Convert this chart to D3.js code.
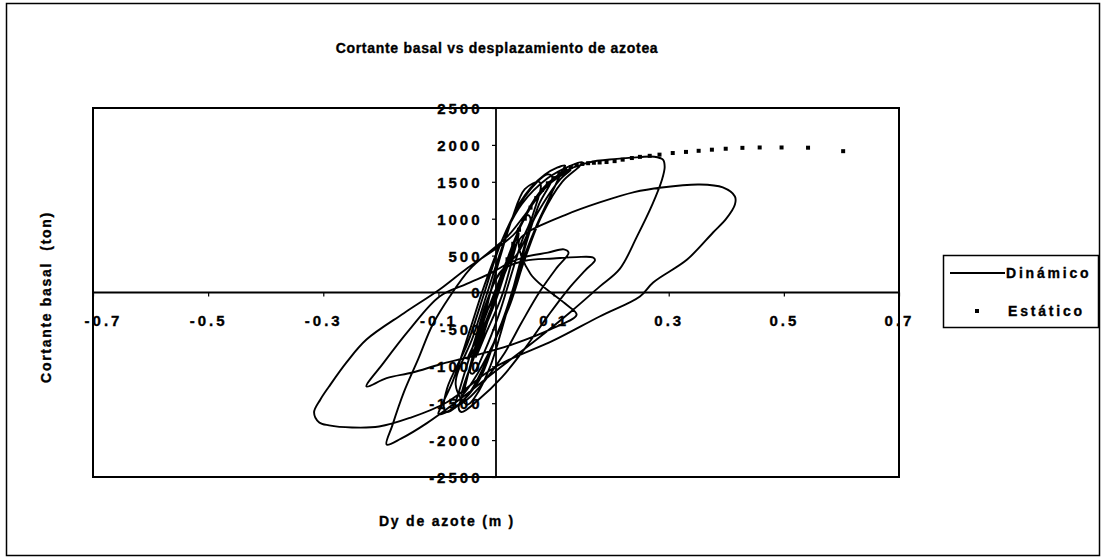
<!DOCTYPE html>
<html>
<head>
<meta charset="utf-8">
<script src="https://cdn.jsdelivr.net/npm/d3@7"></script>
<style>
  html, body { margin: 0; padding: 0; background: #fff; }
  svg { display: block; font-family: "Liberation Sans", Arial, sans-serif; font-weight: bold; }
  svg text { fill: #000; stroke: #000; stroke-width: 0.35px; white-space: pre; }
</style>
</head>
<body>
<svg id="chart" width="1104" height="560"></svg>
<script>
// Dynamic response: roof displacement (m) and base shear (ton), in time order
const dynamicDx = [
  0, 0.012, 0.02, 0.01, -0.012, -0.022, -0.008, 0.014, 0.03, 0.04, 0.03, 0.01, -0.02, -0.035, -0.025, -0.005, 0.015, 0.04, 0.055, 0.06, 0.045, 0.025, 0.005, -0.02, -0.04, -0.045,
  -0.035, -0.02, -0.005, 0.02, 0.05, 0.09, 0.118, 0.126, 0.105, 0.075, 0.045, 0.015, -0.02, -0.05, -0.075, -0.07,
  -0.055, -0.035, -0.015, 0.01, 0.05, 0.1, 0.14, 0.168, 0.172, 0.155, 0.125, 0.09, 0.05, 0.01, -0.03, -0.06, -0.065,
  -0.058, -0.045, -0.028, -0.01, 0.008, 0.028, 0.05, 0.075, 0.078, 0.062, 0.045, 0.028, 0.01, -0.01, -0.035, -0.05,
  -0.07, -0.04, -0.015, 0.01, 0.04, 0.085, 0.12, 0.115, 0.1, 0.07, 0.04, 0.015, -0.015, -0.05, -0.085, -0.09,
  -0.085, -0.05, -0.02, 0.01, 0.05, 0.09, 0.098, 0.075, 0.05, 0.03, 0.0, -0.03, -0.07, -0.1, -0.098,
  -0.075, -0.045, -0.02, 0.01, 0.045, 0.09, 0.13, 0.15, 0.145, 0.115, 0.08, 0.05, 0.025, -0.005, -0.04, -0.06,
  -0.03, 0.0, 0.025, 0.045, 0.075, 0.11, 0.16, 0.21, 0.25, 0.275, 0.29, 0.293, 0.288, 0.272, 0.245, 0.215, 0.18, 0.13, 0.07, 0.0, -0.06, -0.12, -0.165, -0.19,
  -0.18, -0.16, -0.135, -0.11, -0.08, -0.045, -0.01, 0.02, 0.05, 0.09, 0.13, 0.11, 0.07, 0.035,
  0.0, -0.05, -0.098, -0.15, -0.195, -0.225, -0.19, -0.145, -0.098, -0.04, 0.03, 0.1, 0.14, 0.12, 0.06, 0.04,
  0.058, 0.12, 0.18, 0.24, 0.288, 0.354, 0.394, 0.415, 0.415, 0.4, 0.377, 0.332, 0.273, 0.25, 0.18, 0.1, 0.0, -0.086, -0.15, -0.203, -0.25, -0.29, -0.307, -0.316, -0.305, -0.29, -0.26, -0.225, -0.16, -0.098, -0.05, 0.01,
  0.035, 0.055, 0.06, 0.045, 0.02, -0.01, -0.035, -0.05, -0.04, -0.015, 0.01, 0.03, 0.035, 0.02, -0.005, -0.02, -0.012, 0.005, 0.008
];
const dynamicV = [
  0, 300, 450, 150, -280, -480, -200, 300, 640, 800, 500, -50, -600, -880, -650, -150, 350, 850, 1050, 1000, 700, 200, -300, -800, -1100, -1080,
  -800, -350, 100, 380, 480, 540, 585, 540, 330, 0, -400, -820, -1200, -1450, -1560, -1480,
  -1100, -600, -100, 300, 430, 460, 480, 475, 440, 300, 40, -320, -760, -1150, -1450, -1620, -1560,
  -1400, -1000, -500, 0, 500, 1000, 1400, 1500, 1440, 1000, 500, 0, -500, -1000, -1400, -1520,
  -1250, -600, 0, 600, 1200, 1600, 1720, 1650, 1400, 900, 300, -300, -900, -1400, -1620, -1580,
  -1300, -700, 0, 700, 1300, 1600, 1560, 1200, 600, 0, -600, -1200, -1550, -1650, -1590,
  -1200, -500, 100, 700, 1200, 1550, 1720, 1765, 1710, 1500, 1050, 450, -150, -700, -1200, -1400,
  -700, -100, 500, 950, 1350, 1600, 1760, 1810, 1835, 1840, 1800, 1700, 1520, 1200, 760, 320, 80, -260, -640, -1060, -1430, -1770, -1980, -2060,
  -1800, -1350, -900, -434, -50, 320, 560, 760, 1050, 1450, 1660, 1520, 1050, 500,
  300, 120, -54, -500, -950, -1274, -1160, -1084, -976, -860, -700, -480, -300, -150, 250, 700,
  830, 1050, 1220, 1360, 1423, 1463, 1423, 1301, 1192, 1000, 813, 447, 136, -54, -325, -650, -1003, -1490, -1700, -1816, -1829, -1800, -1761, -1626, -1450, -1274, -950, -637, -280, 41, 330, 650,
  820, 1100, 1150, 950, 450, -150, -650, -900, -800, -350, 200, 600, 650, 350, -100, -300, -200, 80, 100
];

// Static pushover curve
const staticDx = [0, 0.01, 0.02, 0.03, 0.04, 0.05, 0.06, 0.07, 0.08, 0.09, 0.1, 0.11, 0.12, 0.13, 0.14, 0.15, 0.16, 0.17, 0.18, 0.192, 0.206, 0.22, 0.236, 0.25, 0.267, 0.284, 0.307, 0.33, 0.352, 0.375, 0.399, 0.428, 0.458, 0.496, 0.542, 0.603];
const staticV  = [0, 220, 450, 660, 850, 1000, 1150, 1280, 1390, 1480, 1550, 1610, 1660, 1700, 1725, 1742, 1752, 1758, 1762, 1768, 1780, 1800, 1822, 1838, 1852, 1868, 1890, 1905, 1920, 1935, 1948, 1960, 1965, 1965, 1962, 1915];

const xTicks = [-0.7, -0.5, -0.3, -0.1, 0.1, 0.3, 0.5, 0.7];
const yTicks = [-2500, -2000, -1500, -1000, -500, 0, 500, 1000, 1500, 2000, 2500];

const seriesNames = ["Dinámico", "Estático"];

// plain hyphen for negative tick labels
const locale = d3.formatLocale({ decimal: ".", thousands: "", grouping: [3], currency: ["", ""], minus: "-" });

const svg = d3.select("#chart");

// outer chart frame
svg.append("rect")
  .attr("x", 6.5).attr("y", 3.5).attr("width", 1093).attr("height", 552)
  .attr("fill", "none").attr("stroke", "#000").attr("stroke-width", 1.5);

const plot = { left: 93, right: 899, top: 108, bottom: 477 };
const x = d3.scaleLinear().domain([-0.7, 0.7]).range([plot.left, plot.right]);
const y = d3.scaleLinear().domain([-2500, 2500]).range([plot.bottom, plot.top]);

// plot area border
svg.append("rect")
  .attr("x", plot.left).attr("y", plot.top)
  .attr("width", plot.right - plot.left).attr("height", plot.bottom - plot.top)
  .attr("fill", "none").attr("stroke", "#000").attr("stroke-width", 2);

// title
svg.append("text")
  .attr("x", 497).attr("y", 53)
  .attr("text-anchor", "middle")
  .style("font-size", "14px").style("letter-spacing", "0.7px")
  .text("Cortante basal vs desplazamiento de azotea");

// axis titles
svg.append("text")
  .attr("transform", "translate(51,297) rotate(-90)")
  .attr("text-anchor", "middle")
  .style("font-size", "14px").style("letter-spacing", "1.7px")
  .text("Cortante basal  (ton)");
svg.append("text")
  .attr("x", 447).attr("y", 526)
  .attr("text-anchor", "middle")
  .style("font-size", "14px").style("letter-spacing", "1.8px")
  .text("Dy de azote (m )");

// x axis through V = 0
const xAxis = svg.append("g")
  .attr("transform", `translate(0,${y(0)})`)
  .call(d3.axisBottom(x).tickValues(xTicks).tickSize(4).tickPadding(19).tickFormat(locale.format(".1f")));
xAxis.select(".domain").attr("stroke-width", 1.8).attr("d", `M${plot.left},0H${plot.right}`);

// y axis through Dy = 0
const yAxis = svg.append("g")
  .attr("transform", `translate(${x(0)},0)`)
  .call(d3.axisLeft(y).tickValues(yTicks).tickSize(4).tickPadding(9.5).tickFormat(locale.format("d")));
yAxis.select(".domain").attr("stroke-width", 1.8).attr("d", `M0,${plot.top}V${plot.bottom}`);

svg.selectAll(".tick line").attr("stroke", "#000").attr("stroke-width", 1.2);
svg.selectAll(".tick text")
  .style("font-size", "15px").style("font-weight", "bold")
  .style("font-family", '"Liberation Sans", Arial, sans-serif')
  .style("letter-spacing", "3px");
yAxis.selectAll(".tick text").attr("dy", "0.36em");
// the leftmost label is kept inside the plot frame
xAxis.selectAll(".tick text").filter(d => d === xTicks[0]).attr("dx", 10);

// dynamic hysteresis trace
const dynPts = dynamicDx.map((d, i) => [d, dynamicV[i]]);
const line = d3.line().x(d => x(d[0])).y(d => y(d[1])).curve(d3.curveCatmullRom.alpha(0.5));
svg.append("path")
  .datum(dynPts)
  .attr("d", line)
  .attr("fill", "none").attr("stroke", "#000").attr("stroke-width", 1.9)
  .attr("stroke-linejoin", "round");

// static points
svg.append("g").selectAll("rect")
  .data(staticDx.map((d, i) => [d, staticV[i]]))
  .join("rect")
  .attr("x", d => x(d[0]) - 2).attr("y", d => y(d[1]) - 2)
  .attr("width", 4).attr("height", 4).attr("fill", "#000");

// legend
const lg = svg.append("g");
lg.append("rect").attr("x", 943.5).attr("y", 255.5).attr("width", 155).attr("height", 72)
  .attr("fill", "#fff").attr("stroke", "#000").attr("stroke-width", 1.5);
lg.append("line").attr("x1", 950).attr("x2", 1005).attr("y1", 273).attr("y2", 273)
  .attr("stroke", "#000").attr("stroke-width", 1.8);
lg.append("rect").attr("x", 975).attr("y", 309).attr("width", 4).attr("height", 4).attr("fill", "#000");
lg.append("text").attr("x", 1006).attr("y", 278)
  .style("font-size", "14px").style("letter-spacing", "2.8px").text(seriesNames[0]);
lg.append("text").attr("x", 1008).attr("y", 316)
  .style("font-size", "14px").style("letter-spacing", "2.8px").text(seriesNames[1]);
</script>
</body>
</html>
